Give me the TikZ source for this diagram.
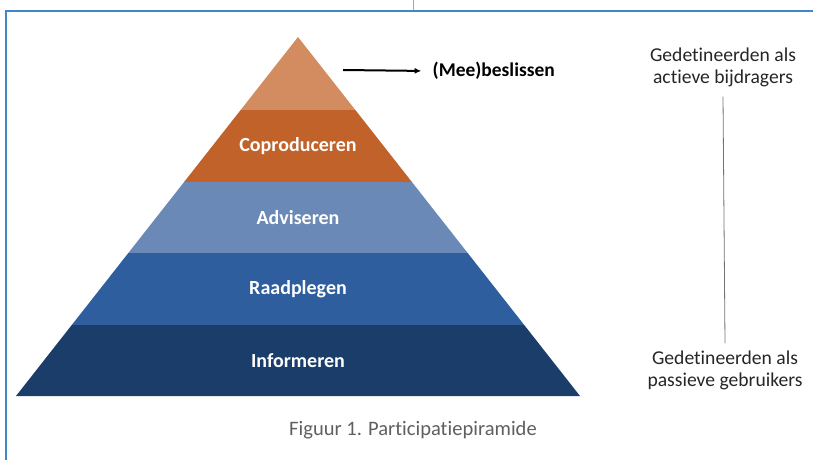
\documentclass[tikz,border=0pt]{standalone}
\usepackage{fontspec}
\setmainfont{Carlito}[RawFeature={-liga}]
\usetikzlibrary{arrows.meta,positioning}
\definecolor{topkleur}{RGB}{210,140,96}
\definecolor{coprodkleur}{RGB}{192,98,42}
\definecolor{advieskleur}{RGB}{106,137,182}
\definecolor{raadkleur}{RGB}{46,94,158}
\definecolor{infokleur}{RGB}{26,61,106}
\definecolor{kaderblauw}{RGB}{64,135,200}
\definecolor{onderschrift}{RGB}{95,95,95}
\tikzset{
  laag/.style={text=white,font=\fontsize{15}{17}\selectfont\bfseries},
  zijtekst/.style={align=center,font=\fontsize{14.7}{16.5}\selectfont,text=black!85},
}
\begin{document}
\begin{tikzpicture}[x=0.75pt,y=-0.75pt]
        \useasboundingbox (0,0) rectangle (813,460);
        %! --- Kader ---
        \draw[kaderblauw,line width=1.5pt] (6,460) -- (6,11) -- (813,11);
        \draw[gray!70,line width=0.6pt] (413,0) -- (413,10);
        %! --- Piramide ---
        % Top
        \fill[topkleur] (298,37) -- ({298+(110-37)*0.7855},110) -- ({298-(110-37)*0.7855},110) -- cycle;
        % Lagen
        \foreach \boven/\onder/\kleur/\naam/\tekst in {110/182/coprodkleur/copro/Coproduceren,
            182/253/advieskleur/advies/Adviseren,253/325/raadkleur/raad/Raadplegen,
            325/396/infokleur/info/Informeren} {
            \pgfmathsetmacro\wb{(\boven-37)*0.7855}
            \pgfmathsetmacro\wo{(\onder-37)*0.7855}
            \fill[\kleur] (298-\wb,\boven) -- (298+\wb,\boven) -- (298+\wo,\onder) -- (298-\wo,\onder) -- cycle;
            \node[laag] (\naam) at (298,{(\boven+\onder)/2}) {\tekst};
        }
        % Pijl en label
        \coordinate (pijlstart) at (343,70);
        \node[anchor=west,font=\fontsize{14.6}{17}\selectfont\bfseries] (beslissen) at (428,71) {(Mee)beslissen};
        \draw[-{Latex[length=5pt,width=4.5pt]},line width=1.5pt,shorten >=5pt] (pijlstart) -- (beslissen.west);
        %! --- Rechts ---
        \node[zijtekst] (actief) at (723,67) {Gedetineerden als\\actieve bijdragers};
        \node[zijtekst] (passief) at (725,370) {Gedetineerden als\\passieve gebruikers};
        \draw[gray!90!black,line width=0.6pt] ([yshift=-4pt]actief.south) -- ([yshift=2pt]passief.north);
        % Onderschrift
        \node[text=onderschrift,font=\fontsize{15.4}{17}\selectfont] (figuur) at (413,430) {Figuur 1. Participatiepiramide};
\end{tikzpicture}
\end{document}
